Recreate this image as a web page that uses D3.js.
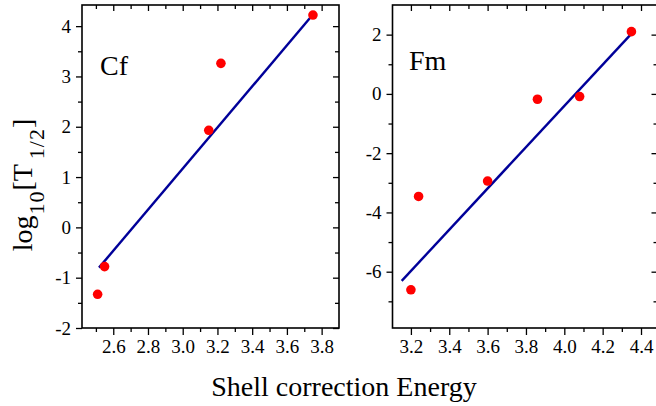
<!DOCTYPE html>
<html>
<head>
<meta charset="utf-8">
<script src="https://cdn.jsdelivr.net/npm/d3@7"></script>
<style>
  html, body { margin: 0; padding: 0; background: #fff; }
  svg { display: block; }
  text { font-family: "Liberation Serif", "Times New Roman", Times, serif; fill: #000; }
</style>
</head>
<body>
<svg id="chart" width="656" height="406"></svg>
<script>
// ---- Data ----
const cfEnergy = [2.51, 2.55, 3.15, 3.22, 3.75];
const cfLogT   = [-1.33, -0.78, 1.93, 3.26, 4.22];
const cfFitEnergy = [2.518, 3.745];
const cfFitLogT   = [-0.80, 4.21];

const fmEnergy = [3.20, 3.24, 3.60, 3.86, 4.08, 4.35];
const fmLogT   = [-6.61, -3.46, -2.94, -0.18, -0.09, 2.10];
const fmFitEnergy = [3.152, 4.353];
const fmFitLogT   = [-6.31, 2.05];

// ---- Ticks ----
const cfXTicks = [2.6, 2.8, 3.0, 3.2, 3.4, 3.6, 3.8];
const cfXMinor = [2.5, 2.7, 2.9, 3.1, 3.3, 3.5, 3.7];
const cfYTicks = [-2, -1, 0, 1, 2, 3, 4];
const cfYMinor = [-1.5, -0.5, 0.5, 1.5, 2.5, 3.5];

const fmXTicks = [3.2, 3.4, 3.6, 3.8, 4.0, 4.2, 4.4];
const fmXMinor = [3.3, 3.5, 3.7, 3.9, 4.1, 4.3];
const fmYTicks = [-6, -4, -2, 0, 2];
const fmYMinor = [-7, -5, -3, -1, 1];

const panelNames = ["Cf", "Fm"];
const xTitle = "Shell correction Energy";

const SERIF = '"Liberation Serif", "Times New Roman", Times, serif';
const svg = d3.select("#chart");

const panels = [
  { name: panelNames[0], x: cfEnergy, y: cfLogT, fx: cfFitEnergy, fy: cfFitLogT,
    xd: [2.42, 3.90], yd: [-2, 4.42], xr: [82, 339], yr: [328, 5],
    xt: cfXTicks, xm: cfXMinor, yt: cfYTicks, ym: cfYMinor, lab: [100, 75] },
  { name: panelNames[1], x: fmEnergy, y: fmLogT, fx: fmFitEnergy, fy: fmFitLogT,
    xd: [3.104, 4.486], yd: [-7.9, 3.0], xr: [392.5, 657.5], yr: [328, 5],
    xt: fmXTicks, xm: fmXMinor, yt: fmYTicks, ym: fmYMinor, lab: [409, 70] }
];

panels.forEach(p => {
  const x = d3.scaleLinear().domain(p.xd).range(p.xr);
  const y = d3.scaleLinear().domain(p.yd).range(p.yr);
  const g = svg.append("g");
  const fmtX = d3.format(".1f");
  const fmtY = v => String(v);

  function styleAxis(sel, labels) {
    sel.attr("font-family", SERIF).attr("font-size", 19);
    sel.select(".domain").remove();
    sel.selectAll("line").attr("stroke", "#000").attr("stroke-width", 1.3);
    if (labels) sel.selectAll("text")
      .attr("font-family", SERIF)
      .style("font-family", SERIF).style("font-size", "19px").attr("fill", "#1a1a1a");
    else sel.selectAll("text").remove();
  }

  // bottom
  g.append("g").attr("transform", `translate(0,${p.yr[0]})`)
    .call(d3.axisBottom(x).tickValues(p.xt).tickFormat(fmtX).tickSize(7).tickPadding(5).tickSizeOuter(0))
    .call(s => styleAxis(s, true));
  g.append("g").attr("transform", `translate(0,${p.yr[0]})`)
    .call(d3.axisBottom(x).tickValues(p.xm).tickSize(4).tickSizeOuter(0))
    .call(s => styleAxis(s, false));
  // top (inward)
  g.append("g").attr("transform", `translate(0,${p.yr[1]})`)
    .call(d3.axisTop(x).tickValues(p.xt).tickSize(-6).tickSizeOuter(0))
    .call(s => styleAxis(s, false));
  g.append("g").attr("transform", `translate(0,${p.yr[1]})`)
    .call(d3.axisTop(x).tickValues(p.xm).tickSize(-4).tickSizeOuter(0))
    .call(s => styleAxis(s, false));
  // left
  g.append("g").attr("transform", `translate(${p.xr[0]},0)`)
    .call(d3.axisLeft(y).tickValues(p.yt).tickFormat(fmtY).tickSize(6).tickPadding(5).tickSizeOuter(0))
    .call(s => styleAxis(s, true));
  g.append("g").attr("transform", `translate(${p.xr[0]},0)`)
    .call(d3.axisLeft(y).tickValues(p.ym).tickSize(4).tickSizeOuter(0))
    .call(s => styleAxis(s, false));
  // right (inward)
  g.append("g").attr("transform", `translate(${p.xr[1]},0)`)
    .call(d3.axisRight(y).tickValues(p.yt).tickSize(-6).tickSizeOuter(0))
    .call(s => styleAxis(s, false));
  g.append("g").attr("transform", `translate(${p.xr[1]},0)`)
    .call(d3.axisRight(y).tickValues(p.ym).tickSize(-4).tickSizeOuter(0))
    .call(s => styleAxis(s, false));

  // frame
  g.append("rect")
    .attr("x", p.xr[0]).attr("y", p.yr[1])
    .attr("width", p.xr[1] - p.xr[0]).attr("height", p.yr[0] - p.yr[1])
    .attr("fill", "none").attr("stroke", "#000").attr("stroke-width", 1.6);

  // fit line
  const line = d3.line().x(d => x(d[0])).y(d => y(d[1]));
  g.append("path")
    .datum(d3.zip(p.fx, p.fy))
    .attr("d", line)
    .attr("fill", "none").attr("stroke", "#000099").attr("stroke-width", 2.4);

  // points
  g.selectAll("circle.pt").data(d3.zip(p.x, p.y)).join("circle")
    .attr("class", "pt")
    .attr("cx", d => x(d[0])).attr("cy", d => y(d[1]))
    .attr("r", 4.8).attr("fill", "#ff0000");

  // panel label
  g.append("text").attr("x", p.lab[0]).attr("y", p.lab[1])
    .style("font-family", SERIF).style("font-size", "28px").text(p.name);
});

// x title
svg.append("text").attr("x", 344).attr("y", 396).attr("text-anchor", "middle")
  .style("font-family", SERIF).style("font-size", "28px").text(xTitle);

// y title: log10[T1/2]
const yt = svg.append("text").attr("transform", "translate(32,185) rotate(-90)")
  .attr("text-anchor", "middle").style("font-family", SERIF).style("font-size", "28px");
yt.append("tspan").text("log");
yt.append("tspan").attr("dy", 12).attr("dx", 1).style("font-size", "22px").style("letter-spacing", "1px").text("10");
yt.append("tspan").attr("dy", -12).attr("dx", 0).style("font-size", "28px").style("letter-spacing", "0px").text("[T");
yt.append("tspan").attr("dy", 12).attr("dx", 5).style("font-size", "22px").style("letter-spacing", "1px").text("1/2");
yt.append("tspan").attr("dy", -12).attr("dx", 0).style("font-size", "28px").style("letter-spacing", "0px").text("]");
</script>
</body>
</html>
